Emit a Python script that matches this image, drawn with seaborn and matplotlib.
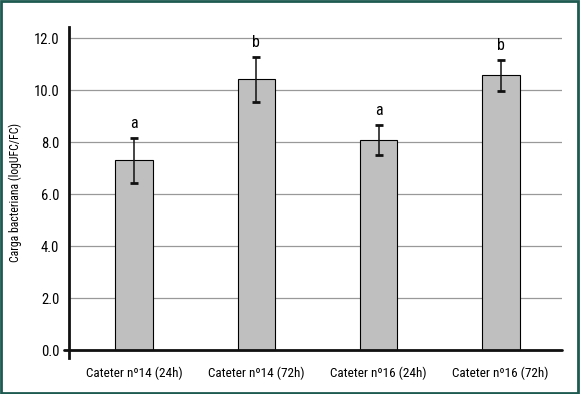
import matplotlib
matplotlib.use("Agg")
import matplotlib.pyplot as plt
from matplotlib import font_manager
import pandas as pd
import seaborn as sns

categories = ["Cateter nº14 (24h)", "Cateter nº14 (72h)", "Cateter nº16 (24h)", "Cateter nº16 (72h)"]
carga = [7.31, 10.42, 8.08, 10.58]
desvio = [0.87, 0.86, 0.58, 0.60]
letras = ["a", "b", "a", "b"]
y_ticks = [0, 2, 4, 6, 8, 10, 12]

sns.set_style("white")

# pick a condensed sans if one is installed
fonts = font_manager.fontManager.ttflist
names = {f.name for f in fonts}
if "Liberation Sans Narrow" in names:
    plt.rcParams["font.family"] = ["Liberation Sans Narrow", "DejaVu Sans"]
elif "Roboto Condensed" in names:
    plt.rcParams["font.family"] = ["Roboto Condensed", "DejaVu Sans"]
else:
    plt.rcParams["font.family"] = ["DejaVu Sans"]
    if any(f.name == "DejaVu Sans" and f.stretch == "condensed" for f in fonts):
        plt.rcParams["font.stretch"] = "condensed"
plt.rcParams["text.color"] = "black"
plt.rcParams["xtick.color"] = "black"
plt.rcParams["ytick.color"] = "black"
plt.rcParams["axes.labelcolor"] = "black"

df = pd.DataFrame({"Grupo": categories, "Carga": carga})

fig = plt.figure(figsize=(5.8, 3.94), dpi=100)
ax = fig.add_axes([0.119, 0.0914, 0.85, 0.841])

sns.barplot(x="Grupo", y="Carga", data=df, color="#bfbfbf", edgecolor="black",
            linewidth=0.8, width=0.31, errorbar=None, saturation=1, ax=ax, zorder=3)
ax.errorbar(range(len(carga)), carga, yerr=desvio, fmt="none", ecolor="#111111",
            elinewidth=1.1, capsize=2.8, capthick=2, zorder=4)
for i, (v, d, l) in enumerate(zip(carga, desvio, letras)):
    ax.annotate(l, (i, v + d), xytext=(0, 5), textcoords="offset points",
                ha="center", va="bottom", fontsize=11.5)

ax.set_xlim(-0.535, 3.503)
ax.set_ylim(-0.3, 12.45)
ax.set_yticks(y_ticks)
ax.set_yticklabels([f"{t:.1f}" for t in y_ticks], fontsize=10.5)
ax.tick_params(axis="x", labelsize=9.5, length=0, pad=6)
ax.tick_params(axis="y", length=0, pad=7)
ax.yaxis.grid(True, color="#999999", linewidth=0.9)
ax.set_axisbelow(True)
ax.set_xlabel("")
ax.set_ylabel("Carga bacteriana (logUFC/FC)", fontsize=8.5, labelpad=8)

for s in ["top", "right", "bottom"]:
    ax.spines[s].set_visible(False)
ax.spines["left"].set_linewidth(2)
ax.spines["left"].set_color("#111111")
ax.axhline(0, xmin=-0.01, xmax=1, color="#111111", linewidth=2, clip_on=False, zorder=5)

fig.patches.append(plt.Rectangle((0.002, 0.003), 0.995, 0.994, transform=fig.transFigure,
                                 fill=False, edgecolor="#1d5a50", linewidth=2))

fig.savefig("out.png", dpi=100)
